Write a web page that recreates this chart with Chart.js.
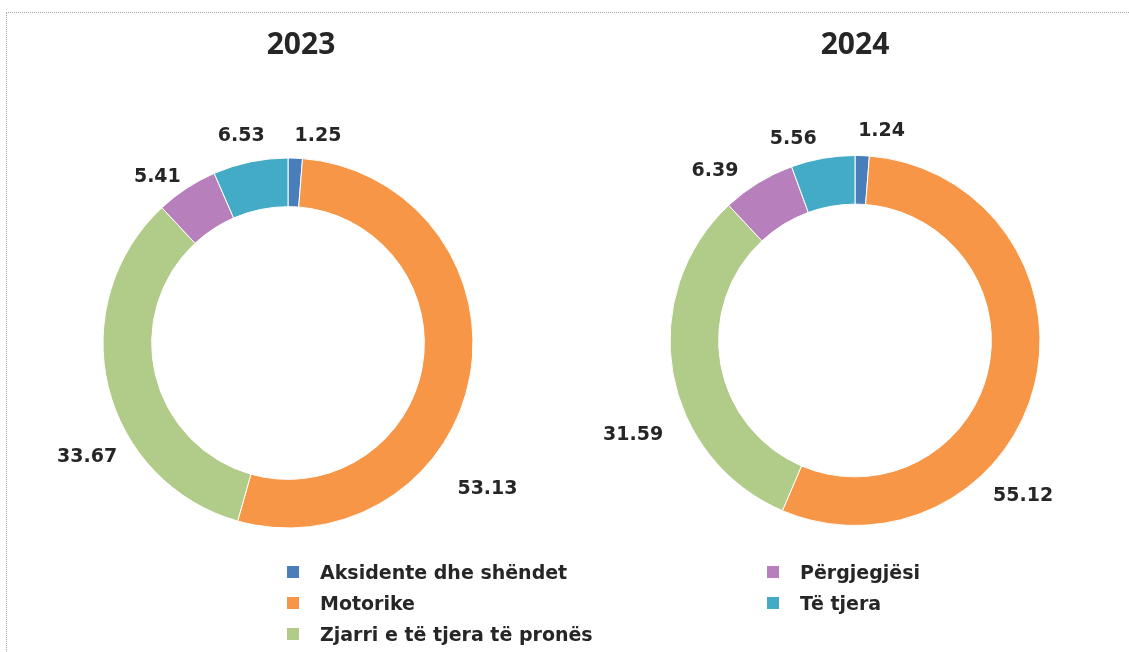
<!DOCTYPE html>
<html>
<head>
<meta charset="utf-8">
<script src="https://cdn.jsdelivr.net/npm/chart.js@4"></script>
<style>
    html, body { margin: 0; padding: 0; background: #fff; }
    #wrap { position: relative; width: 1129px; height: 652px; overflow: hidden; background: #fff; }
    #frame {
        position: absolute; left: 6px; top: 12px; right: -10px; bottom: -10px;
        border-top: 1px dotted #a6a6a6; border-left: 1px dotted #a6a6a6;
    }
    .pie { position: absolute; top: 0; }
    .title {
        position: absolute; top: 22px; width: 200px; text-align: center;
        font-family: "Noto Sans", sans-serif; font-weight: bold; font-size: 30px;
        line-height: 42px; color: #262626;
    }
    #legend {
        position: absolute; left: 287px; top: 556px;
        display: grid; grid-auto-flow: column;
        grid-template-rows: repeat(3, 31px); grid-template-columns: 480px 300px;
        font-family: "DejaVu Sans", sans-serif; font-weight: bold; font-size: 19px; color: #262626;
    }
    .item { display: flex; align-items: center; }
    .box { width: 12px; height: 12px; margin-right: 21px; }
</style>
</head>
<body>
<div id="wrap">
    <div id="frame"></div>
    <canvas id="chart2023" class="pie" style="left:0px" width="576" height="652"></canvas>
    <canvas id="chart2024" class="pie" style="left:567px" width="576" height="652"></canvas>
    <div id="title2023" class="title" style="left:201px"></div>
    <div id="title2024" class="title" style="left:755px"></div>
    <div id="legend"></div>
</div>
<script>
// Categories and values (percent)
const years = ['2023', '2024'];
const categories = ['Aksidente dhe shëndet', 'Motorike', 'Zjarri e të tjera të pronës', 'Përgjegjësi', 'Të tjera'];
const values2023 = [1.25, 53.13, 33.67, 5.41, 6.53];
const values2024 = [1.24, 55.12, 31.59, 6.39, 5.56];
const sliceColors = ['#4A7EBB', '#F79646', '#B1CB89', '#B77FBB', '#43ABC6'];

// Label placement tweaks (degrees from slice middle, px outside the ring)
const labelShift2023 = [6, 26, -16, -5, -1];
const labelGap2023 = [24, 62, 46, 26, 27];
const labelShift2024 = [5, 29, -13, -8, -7];
const labelGap2024 = [26, 44, 56, 35, 26];

const outsideLabels = {
    id: 'outsideLabels',
    afterDatasetsDraw(chart, args, opts) {
        const ctx = chart.ctx;
        const meta = chart.getDatasetMeta(0);
        const data = chart.data.datasets[0].data;
        ctx.save();
        ctx.font = 'bold 19px "DejaVu Sans", sans-serif';
        ctx.fillStyle = '#262626';
        ctx.textAlign = 'center';
        ctx.textBaseline = 'middle';
        meta.data.forEach((arc, i) => {
            const mid = (arc.startAngle + arc.endAngle) / 2 + opts.shift[i] * Math.PI / 180;
            const r = arc.outerRadius + opts.gap[i];
            const x = arc.x + Math.cos(mid) * r;
            const y = arc.y + Math.sin(mid) * r;
            ctx.fillText(data[i].toFixed(2), x, y);
        });
        ctx.restore();
    }
};

function makeDoughnut(id, values, shift, gap, padBottom) {
    return new Chart(document.getElementById(id), {
        type: 'doughnut',
        data: {
            labels: categories,
            datasets: [{
                data: values,
                backgroundColor: sliceColors,
                borderColor: '#ffffff',
                borderWidth: 1,
                radius: 185,
                cutout: '73.7%'
            }]
        },
        options: {
            responsive: false,
            animation: false,
            events: [],
            layout: { padding: { top: 76, bottom: padBottom } },
            plugins: {
                legend: { display: false },
                tooltip: { enabled: false },
                title: { display: false },
                outsideLabels: { shift: shift, gap: gap }
            }
        },
        plugins: [outsideLabels]
    });
}

makeDoughnut('chart2023', values2023, labelShift2023, labelGap2023, 42);
makeDoughnut('chart2024', values2024, labelShift2024, labelGap2024, 47);

document.getElementById('title2023').textContent = years[0];
document.getElementById('title2024').textContent = years[1];

// Legend, filled column by column
const legend = document.getElementById('legend');
categories.forEach((name, i) => {
    const item = document.createElement('div');
    item.className = 'item';
    const box = document.createElement('span');
    box.className = 'box';
    box.style.background = sliceColors[i];
    const txt = document.createElement('span');
    txt.textContent = name;
    item.appendChild(box);
    item.appendChild(txt);
    legend.appendChild(item);
});
</script>
</body>
</html>
